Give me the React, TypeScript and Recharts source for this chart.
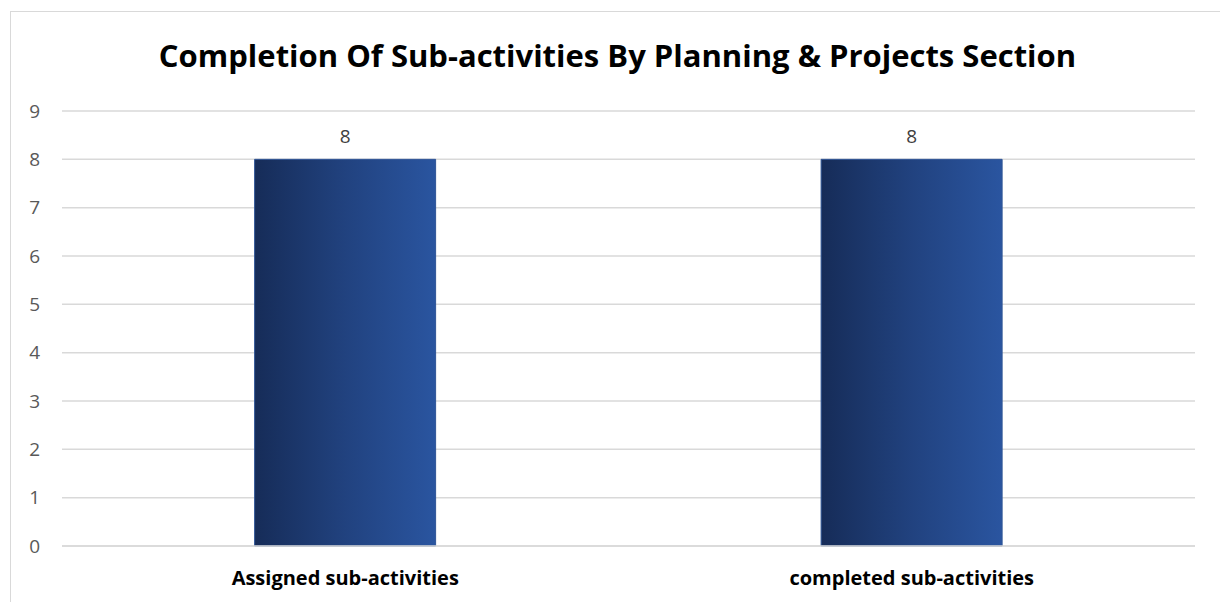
import React from "react";
import { BarChart, Bar, XAxis, YAxis, CartesianGrid, LabelList } from "recharts";

const categories = ["Assigned sub-activities", "completed sub-activities"];
const values = [8, 8];
const yTicks = [0, 1, 2, 3, 4, 5, 6, 7, 8, 9];
const title = "Completion Of Sub-activities By Planning & Projects Section";

const data = categories.map((c, i) => ({ name: c, value: values[i] }));

const FONT = "'Open Sans', Lato, sans-serif";

export default function App() {
  return (
    <div style={{ position: "absolute", left: 0, top: 0, width: 1220, height: 602, overflow: "hidden", background: "#fff", fontFamily: FONT }}>
      <div style={{ position: "absolute", left: 10, top: 11, width: 1240, height: 620, border: "1px solid #d9d9d9", boxSizing: "border-box" }} />
      <div style={{ position: "absolute", left: 0, top: 35, width: 1235, textAlign: "center", fontSize: 31, fontWeight: 700, color: "#000", lineHeight: "40px" }}>
        {title}
      </div>
      <div style={{ position: "absolute", left: 0, top: 0 }}>
        <BarChart width={1220} height={602} data={data} margin={{ top: 111, right: 25, bottom: 26, left: 0 }} barCategoryGap="34%">
          <defs>
            <linearGradient id="barGrad" x1="0" y1="0" x2="1" y2="0">
              <stop offset="0%" stopColor="#162c58" />
              <stop offset="50%" stopColor="#21427f" />
              <stop offset="100%" stopColor="#2a55a0" />
            </linearGradient>
          </defs>
          <CartesianGrid vertical={false} stroke="#d9d9d9" strokeWidth={1.5} />
          <XAxis
            dataKey="name"
            axisLine={{ stroke: "#d9d9d9", strokeWidth: 1.5 }}
            tickLine={false}
            tickMargin={19}
            tick={{ fill: "#000", fontSize: 20, fontWeight: 700, fontFamily: FONT }}
          />
          <YAxis
            domain={[0, 9]}
            ticks={yTicks}
            width={62}
            axisLine={false}
            tickLine={false}
            tickSize={0}
            tickMargin={22}
            tick={{ fill: "#595959", fontSize: 19, fontFamily: FONT }}
          />
          <Bar dataKey="value" fill="url(#barGrad)" stroke="#2f5597" strokeWidth={1} isAnimationActive={false}>
            <LabelList dataKey="value" position="top" offset={16} fill="#404040" fontSize={19} fontFamily={FONT} />
          </Bar>
        </BarChart>
      </div>
    </div>
  );
}
